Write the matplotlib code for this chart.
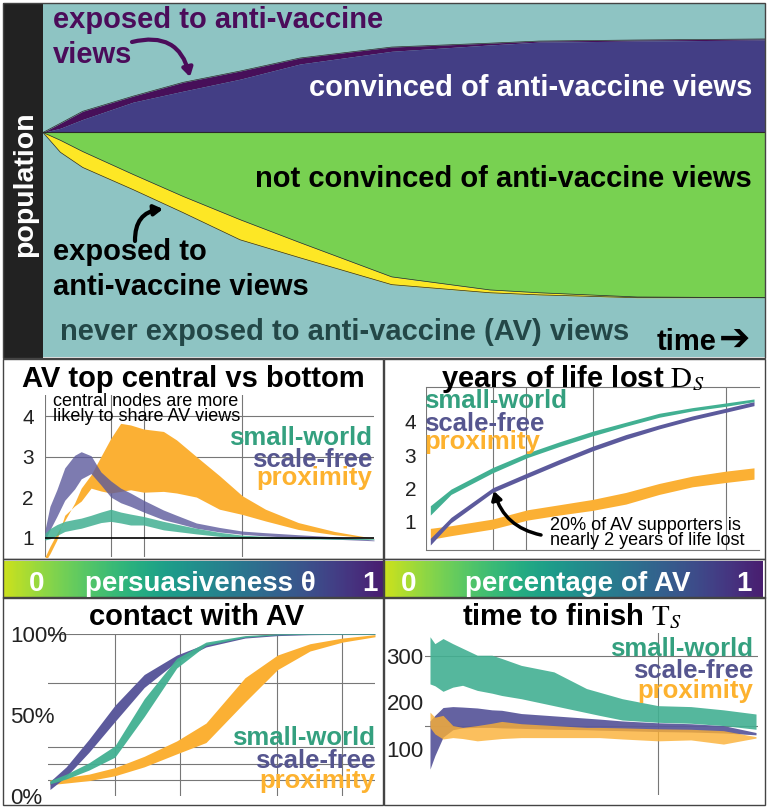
import numpy as np
import matplotlib.pyplot as plt
from matplotlib.colors import ListedColormap
from matplotlib.patches import Rectangle

W, H = 768, 808
SANS = ["Liberation Sans", "DejaVu Sans"]
plt.rcParams["font.family"] = SANS
plt.rcParams["mathtext.fontset"] = "stix"

# ── top panel: share of population over time ────────────────────────────────
time_frac        = [0, .024, .055, .125, .194, .273, .356, .483, .619, .687, .823, 1.0]
av_exposed_top   = [.636, .662, .696, .739, .778, .810, .847, .878, .889, .895, .898, .901]
av_convinced_top = [.636, .648, .673, .722, .753, .787, .830, .866, .884, .892, .895, .898]
split_level      = 0.636
notconv_bottom   = [.636, .614, .582, .517, .455, .389, .324, .227, .190, .182, .170, .168]
exposed_bottom   = [.636, .580, .537, .474, .409, .332, .281, .205, .182, .176, .168, .168]

# ── AV top central vs bottom (x = persuasiveness) ───────────────────────────
theta_c = [0, .015, .036, .06, .09, .11, .14, .17, .2, .23, .26, .3, .36, .4, .46, .53, .6, .67, .77, .88, 1.0]
cen_pr_hi = [0.52, 0.78, 1.10, 1.42, 1.85, 2.22, 2.55, 3.00, 3.45, 3.82, 3.78, 3.68, 3.62, 3.41, 3.00, 2.53, 2.03, 1.70, 1.37, 1.15, 0.98]
cen_pr_lo = [0.40, 0.60, 0.94, 1.55, 1.78, 1.90, 2.22, 2.15, 2.10, 2.14, 2.18, 2.12, 2.14, 2.10, 2.00, 1.70, 1.57, 1.41, 1.20, 1.07, 0.98]
cen_sf_hi = [1.19, 1.77, 2.18, 2.72, 3.03, 3.12, 3.02, 2.62, 2.40, 2.22, 2.10, 1.92, 1.68, 1.55, 1.36, 1.25, 1.16, 1.12, 1.07, 1.02, 0.94]
cen_sf_lo = [0.94, 1.19, 1.52, 1.92, 2.20, 2.45, 2.58, 2.30, 2.00, 1.86, 1.77, 1.63, 1.44, 1.36, 1.23, 1.14, 1.08, 1.04, 1.00, 0.96, 0.92]
cen_sw_hi = [1.11, 1.22, 1.32, 1.40, 1.45, 1.48, 1.55, 1.63, 1.70, 1.63, 1.58, 1.52, 1.40, 1.33, 1.23, 1.13, 1.06, 1.03, 1.00, 0.99, 0.97]
cen_sw_lo = [0.94, 0.97, 1.05, 1.15, 1.20, 1.23, 1.30, 1.37, 1.40, 1.36, 1.31, 1.31, 1.19, 1.15, 1.09, 1.03, 1.00, 0.98, 0.97, 0.96, 0.95]

# ── years of life lost (x = percentage of AV) ───────────────────────────────
pct_y = [.013, .075, .2, .305, .4, .5, .6, .7, .8, .9, .985]
yll_sw_lo = [1.20, 1.82, 2.47, 2.93, 3.26, 3.58, 3.87, 4.14, 4.33, 4.47, 4.61]
yll_sw_hi = [1.48, 1.98, 2.63, 3.07, 3.40, 3.72, 3.99, 4.26, 4.43, 4.57, 4.69]
yll_sf_lo = [0.30, 0.97, 1.88, 2.33, 2.73, 3.13, 3.48, 3.79, 4.06, 4.29, 4.49]
yll_sf_hi = [0.50, 1.13, 2.02, 2.47, 2.87, 3.27, 3.62, 3.91, 4.18, 4.41, 4.61]
yll_pr_lo = [0.47, 0.58, 0.78, 1.05, 1.20, 1.34, 1.53, 1.82, 2.05, 2.18, 2.28]
yll_pr_hi = [0.80, 0.88, 1.08, 1.36, 1.51, 1.67, 1.88, 2.15, 2.37, 2.52, 2.62]

# ── contact with AV (x = persuasiveness, %) ─────────────────────────────────
theta_k = [0, .05, .12, .2, .29, .39, .48, .6, .7, .8, .9, 1.0]
con_sf_lo = [4.0, 12, 27, 46, 67, 83, 92, 97.5, 99.0, 99.6, 99.8, 99.8]
con_sf_hi = [9.0, 18, 35, 56, 75, 87, 94, 98.5, 100.0, 100.2, 100.2, 100.2]
con_sw_lo = [7.5, 10.5, 16, 24, 49, 79, 93, 98.0, 99.5, 99.8, 99.8, 99.8]
con_sw_hi = [9.5, 13.5, 20.5, 31, 60, 85, 95, 99.0, 100.1, 100.2, 100.2, 100.2]
con_pr_lo = [7.0, 8.0, 9.5, 12.5, 18, 26, 33, 58, 78, 89.5, 95.0, 98.3]
con_pr_hi = [10.0, 11.5, 13.5, 17.5, 24.5, 34, 45, 73, 87, 94.0, 97.5, 99.6]

# ── time to finish (x = percentage of AV) ───────────────────────────────────
pct_t = [0, .015, .04, .07, .10, .145, .19, .22, .28, .38, .48, .52, .59, .70, .80, .90, 1.0]
fin_sw_hi = [342, 327, 338, 327, 317, 302, 302, 295, 280, 266, 230, 222, 208, 193, 191, 184, 175]
fin_sw_lo = [240, 236, 224, 233, 237, 226, 220, 215, 208, 193, 178, 172, 162, 157, 155, 150, 142]
fin_sf_hi = [160, 172, 189, 191, 190, 188, 184, 183, 176, 171, 166, 164, 160, 156, 154, 150, 135]
fin_sf_lo = [56, 85, 125, 141, 145, 146, 146, 145, 144, 142, 141, 140, 139, 137, 136, 134, 130]
fin_pr_hi = [179, 168, 172, 150, 146, 150, 155, 159, 154, 150, 146, 146, 145, 143, 142, 139, 126]
fin_pr_lo = [146, 132, 121, 124, 122, 117, 120, 122, 124, 124, 124, 124, 121, 117, 119, 110, 123]

TEAL_BG, PURPLE, INDIGO = "#8ec4c3", "#470f59", "#433e85"
GREEN, YELLOW = "#78d151", "#fde725"
SW, SF, PR = "#42b092", "#5c5a9c", "#fbb034"
SW_T, SF_T, PR_T = "#34a07f", "#56568f", "#fdb22f"
GRID = "#777777"

fig = plt.figure(figsize=(W / 100, H / 100), dpi=100, facecolor="white")


def px_axes(x0, y0, x1, y1):
    """axes placed by pixel box measured from the top-left corner"""
    return fig.add_axes([x0 / W, 1 - y1 / H, (x1 - x0) / W, (y1 - y0) / H])


def bare(ax):
    ax.set_xticks([])
    ax.set_yticks([])
    for s in ax.spines.values():
        s.set_visible(False)


# top stream panel
ax = px_axes(43, 4, 765, 357)
ax.set_facecolor(TEAL_BG)
ax.fill_between(time_frac, av_convinced_top, av_exposed_top, color=PURPLE, lw=0)
ax.fill_between(time_frac, split_level, av_convinced_top, color=INDIGO, lw=0)
ax.fill_between(time_frac, notconv_bottom, split_level, color=GREEN, lw=0)
ax.fill_between(time_frac, exposed_bottom, notconv_bottom, color=YELLOW, lw=0)
for edge in (av_exposed_top, notconv_bottom, exposed_bottom):
    ax.plot(time_frac, edge, color="#2a2a2a", lw=0.5)
ax.axhline(split_level, color="#2a2a2a", lw=0.8)
ax.set_xlim(0, 1)
ax.set_ylim(0, 1)
bare(ax)

strip = px_axes(3, 3, 43, 358)
strip.set_facecolor("#222222")
bare(strip)
strip.text(0.55, 0.49, "population", rotation=90, color="white", fontsize=20.5,
           fontweight="bold", ha="center", va="center", transform=strip.transAxes)

# colour bars
cb_cmap = ListedColormap(plt.cm.viridis(np.linspace(0.92, 0.08, 256)))
for x0, x1 in [(4, 383), (385, 763)]:
    cb = px_axes(x0, 561, x1, 598)
    cb.imshow(np.linspace(0, 1, 256)[None, :], cmap=cb_cmap, aspect="auto",
              extent=(0, 1, 0, 1))
    bare(cb)


def band(ax, x, lo, hi, color, alpha=1.0):
    ax.fill_between(x, lo, hi, color=color, alpha=alpha, lw=0)


def style_ticks(ax, size=15):
    ax.set_xticks([])
    ax.tick_params(axis="y", length=0, labelsize=size, labelcolor="#222222")
    for s in ax.spines.values():
        s.set_visible(False)
    ax.set_facecolor("none")


# AV top central vs bottom
ax = px_axes(45, 395, 374, 557)
band(ax, theta_c, cen_pr_lo, cen_pr_hi, PR)
band(ax, theta_c, cen_sf_lo, cen_sf_hi, SF, 0.8)
band(ax, theta_c, cen_sw_lo, cen_sw_hi, SW, 0.85)
for v in (0, 0.2, 0.3, 0.6):
    ax.axvline(v, color=GRID, lw=0.8, zorder=0)
for v in (3, 4):
    ax.axhline(v, color=GRID, lw=0.8, zorder=0)
ax.axhline(1, color="black", lw=1.2, zorder=3)
ax.set_xlim(0, 1)
ax.set_ylim(0.52, 4.52)
ax.set_yticks([1, 2, 3, 4])
style_ticks(ax)
ax.tick_params(axis="y", pad=8)

# years of life lost
ax = px_axes(426, 387, 759, 550)
band(ax, pct_y, yll_pr_lo, yll_pr_hi, PR)
band(ax, pct_y, yll_sf_lo, yll_sf_hi, SF)
band(ax, pct_y, yll_sw_lo, yll_sw_hi, SW)
for v in (0, 0.2, 0.3, 0.5, 0.9):
    ax.axvline(v, color=GRID, lw=0.8, zorder=0)
ax.set_xlim(0, 1)
ax.set_ylim(0.15, 5.05)
ax.set_yticks([1, 2, 3, 4])
style_ticks(ax)
ax.spines["top"].set_visible(True)
ax.spines["bottom"].set_visible(True)
ax.spines["top"].set_color(GRID)
ax.spines["bottom"].set_color(GRID)
ax.tick_params(axis="y", pad=7)

# contact with AV
ax = px_axes(48, 634, 375, 796)
band(ax, theta_k, con_pr_lo, con_pr_hi, PR)
band(ax, theta_k, con_sf_lo, con_sf_hi, SF)
band(ax, theta_k, con_sw_lo, con_sw_hi, SW, 0.95)
for v in (0.2, 0.4, 0.7, 0.9):
    ax.axvline(v, color=GRID, lw=0.8, zorder=0)
for v in (10, 20, 30, 70, 100):
    ax.axhline(v, color=GRID, lw=0.8, zorder=0)
ax.set_xlim(-0.006, 1)
ax.set_ylim(0, 100)
ax.set_yticks([0, 50, 100], ["0%", "50%", "100%"])
style_ticks(ax, 16)
for lab in ax.get_yticklabels():
    lab.set_horizontalalignment("left")
ax.tick_params(axis="y", pad=27)

# time to finish
ax = px_axes(425, 633, 758, 795)
band(ax, pct_t, fin_sf_lo, fin_sf_hi, SF, 0.95)
band(ax, pct_t, fin_pr_lo, fin_pr_hi, PR, 0.8)
band(ax, pct_t, fin_sw_lo, fin_sw_hi, SW, 0.9)
ax.axvline(0.7, color=GRID, lw=0.8, zorder=0)
for v in (150, 300):
    ax.axhline(v, color=GRID, lw=0.8, zorder=0)
ax.set_xlim(-0.0153, 1.0061)
ax.set_ylim(0, 350)
ax.set_yticks([100, 200, 300])
style_ticks(ax, 16)
ax.tick_params(axis="y", pad=1)

# ── overlay in pixel space: frames, labels, arrows ─────────────────────────
ov = fig.add_axes([0, 0, 1, 1])
ov.set_xlim(0, W)
ov.set_ylim(H, 0)
ov.axis("off")
ov.patch.set_alpha(0)

for (x0, y0, x1, y1) in [(3, 3, 765, 358), (3, 359, 383, 559), (384, 359, 765, 559),
                         (3, 597, 383, 805), (384, 597, 765, 805),
                         (3, 559, 383, 598), (384, 559, 765, 598)]:
    ov.add_patch(Rectangle((x0, y0), x1 - x0, y1 - y0, fill=False, ec="#444444", lw=1))

big = dict(fontweight="bold", fontsize=21, va="baseline")
ov.text(53, 28, "exposed to anti-vaccine", color="#4b0c5a", ha="left", **big)
ov.text(53, 63, "views", color="#4b0c5a", ha="left", **big)
ov.text(752, 96, "convinced of anti-vaccine views", color="white", ha="right", **big)
ov.text(752, 187, "not convinced of anti-vaccine views", color="black", ha="right", **big)
ov.text(53, 260, "exposed to", color="black", ha="left", **big)
ov.text(53, 295, "anti-vaccine views", color="black", ha="left", **big)
ov.text(60, 340, "never exposed to anti-vaccine (AV) views", color="#234747", ha="left", **big)
ov.text(657, 350, "time", color="black", ha="left", **big)
ov.text(719, 341, "\u2794", color="black", ha="left", family=["DejaVu Sans"],
        fontweight="bold", fontsize=27, va="center")

ov.annotate("", xy=(190, 77), xytext=(132, 42),
            arrowprops=dict(arrowstyle="-|>,head_length=0.5,head_width=0.3",
                            color="#4b0c5a", lw=3, connectionstyle="arc3,rad=-0.5",
                            shrinkA=0, shrinkB=0))
ov.annotate("", xy=(163, 209), xytext=(135, 241),
            arrowprops=dict(arrowstyle="-|>,head_length=0.5,head_width=0.3",
                            color="black", lw=3, connectionstyle="arc3,rad=-0.45",
                            shrinkA=0, shrinkB=0))

# colour bar labels
cbt = dict(fontweight="bold", fontsize=20, color="white", ha="center", va="baseline")
ov.text(37, 591, "0", **cbt)
ov.text(200, 591, "persuasiveness \u03b8", **cbt)
ov.text(370, 591, "1", **cbt)
ov.text(409, 591, "0", **cbt)
ov.text(578, 591, "percentage of AV", **cbt)
ov.text(744, 591, "1", **cbt)

# panel titles
ttl = dict(fontweight="bold", fontsize=21, color="black", ha="center", va="baseline")
ov.text(193, 387, "AV top central vs bottom", **ttl)
ov.text(573, 387, r"years of life lost $\mathrm{D}_S$", **ttl)
ov.text(197, 625, "contact with AV", **ttl)
ov.text(572, 625, r"time to finish $\mathrm{T}_S$", **ttl)

# legends
leg = dict(fontweight="bold", fontsize=18.5, va="baseline")
for x, ys, ha in [(372, (445, 467, 485), "right"), (424, (408, 431, 449), "left"),
                  (375, (745, 768, 788), "right"), (753, (656, 678, 698), "right")]:
    for y, name, col in zip(ys, ("small-world", "scale-free", "proximity"), (SW_T, SF_T, PR_T)):
        ov.text(x, y, name, color=col, ha=ha, **leg)

# annotations
ov.text(53, 406, "central nodes are more", fontsize=13, ha="left", va="baseline")
ov.text(53, 421, "likely to share AV views", fontsize=13, ha="left", va="baseline")
ov.text(550, 530, "20% of AV supporters is", fontsize=13, ha="left", va="baseline")
ov.text(550, 545, "nearly 2 years of life lost", fontsize=13, ha="left", va="baseline")
ov.annotate("", xy=(494, 491), xytext=(541, 535),
            arrowprops=dict(arrowstyle="-|>,head_length=0.5,head_width=0.3",
                            color="black", lw=2.5, connectionstyle="arc3,rad=-0.3",
                            shrinkA=0, shrinkB=0))

fig.savefig("out.png", dpi=100, facecolor="white")
